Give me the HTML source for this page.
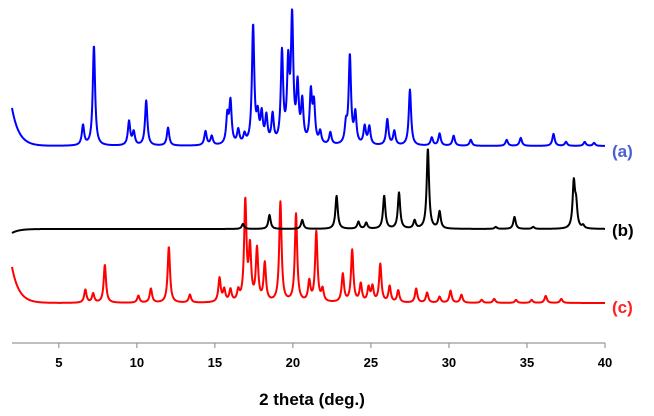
<!DOCTYPE html>
<html><head><meta charset="utf-8"><style>
html,body{margin:0;padding:0;background:#fff;}
svg{display:block;font-family:"Liberation Sans",Arial,sans-serif;}
</style></head><body>
<svg id="chart" width="654" height="416" viewBox="0 0 654 416" xmlns="http://www.w3.org/2000/svg">
<g id="axis"></g>
<g id="series"></g>
<text x="612" y="157" font-size="17" font-weight="bold" fill="#4a5fd0">(a)</text>
<text x="612" y="236" font-size="17" font-weight="bold" fill="#000">(b)</text>
<text x="612" y="313" font-size="17" font-weight="bold" fill="#ff2020">(c)</text>
<text x="312" y="405" font-size="17" font-weight="bold" text-anchor="middle" fill="#000">2 theta (deg.)</text>
</svg>
<script>
const xTicks = [5,10,15,20,25,30,35,40];
const aPos = [6.55,7.25,9.5,9.8,10.6,12.0,14.4,14.8,15.8,16.0,16.5,16.9,17.45,17.75,18.0,18.3,18.7,19.3,19.7,19.95,20.3,20.6,21.15,21.35,21.75,22.4,23.4,23.65,24.0,24.6,24.9,26.05,26.5,27.5,28.9,29.4,30.3,31.4,33.7,34.6,36.7,37.5,38.7,39.3];
const aHeight = [20,100,24,13,45,18,14,9,28,42,14,9,118,25,28,26,28,90,75,122,55,40,50,38,12,12,18,88,30,18,18,26,14,56,8,12,10,6,6,8,12,4,4,3];
const bPos = [16.8,18.5,20.6,22.8,24.2,24.7,25.85,26.8,27.8,28.65,29.4,33.0,34.2,35.4,38.0,38.15,38.6];
const bHeight = [5,14,9,33,7,6,33,36,8,80,17,2,12,2,45,22,3];
const cPos = [6.7,7.2,7.95,10.1,10.9,12.05,13.4,15.3,15.6,16.0,16.5,16.95,17.25,17.7,18.2,19.2,20.2,21.05,21.5,21.9,23.2,23.8,24.35,24.85,25.1,25.6,26.2,26.75,27.9,28.6,29.4,30.1,30.8,32.1,32.9,34.3,35.3,36.2,37.2];
const cHeight = [13,9,38,7,14,56,8,24,12,12,10,100,52,52,38,100,88,20,70,12,28,52,18,14,15,38,16,12,14,10,6,12,8,3,4,3,3,7,4];
const aStart = [146, 38];
const bStart = [229, -4];
const cStart = [303, 36];

const X0=2, X1=40, PX0=12, PX1=605, AXY=343;
const sx = v => PX0 + (v-X0)/(X1-X0)*(PX1-PX0);
const NS='http://www.w3.org/2000/svg';
const axis=document.getElementById('axis');
const line=document.createElementNS(NS,'line');


line.setAttribute('x1',PX0);line.setAttribute('x2',PX1);line.setAttribute('y1',AXY);line.setAttribute('y2',AXY);
line.setAttribute('stroke','#999');line.setAttribute('stroke-width','1.2');
axis.appendChild(line);
xTicks.forEach(t=>{
  const tk=document.createElementNS(NS,'line');
  
  
  tk.setAttribute('x1',sx(t));tk.setAttribute('x2',sx(t));tk.setAttribute('y1',AXY);tk.setAttribute('y2',AXY+5);
  tk.setAttribute('stroke','#999');tk.setAttribute('stroke-width','1.2');
  axis.appendChild(tk);
  const tl=document.createElementNS(NS,'text');
  
  
  tl.setAttribute('x',sx(t));tl.setAttribute('y',AXY+24);
  tl.setAttribute('text-anchor','middle');tl.setAttribute('font-size','13');tl.setAttribute('font-weight','bold');
  tl.textContent=t;
  axis.appendChild(tl);
});
function pattern(pos,h,start,color,name){
  let d='';
  for(let x=X0;x<=X1+1e-9;x+=0.02){
    let I=start[1]*Math.exp(-(x-X0)/0.45);
    for(let i=0;i<pos.length;i++){
      const g=0.09, dx=x-pos[i];
      I+=h[i]*g*g/(dx*dx+g*g);
    }
    const y=start[0]-I;
    d+=(d?'L':'M')+sx(x).toFixed(2)+','+y.toFixed(2);
  }
  const p=document.createElementNS(NS,'path');
  
  
  p.setAttribute('d',d);p.setAttribute('fill','none');p.setAttribute('stroke',color);
  p.setAttribute('stroke-width','2');p.setAttribute('stroke-linejoin','round');
  document.getElementById('series').appendChild(p);
}
pattern(cPos,cHeight,cStart,'#ff0000','series-c');
pattern(bPos,bHeight,bStart,'#000000','series-b');
pattern(aPos,aHeight,aStart,'#0000ff','series-a');
</script>
</body></html>
